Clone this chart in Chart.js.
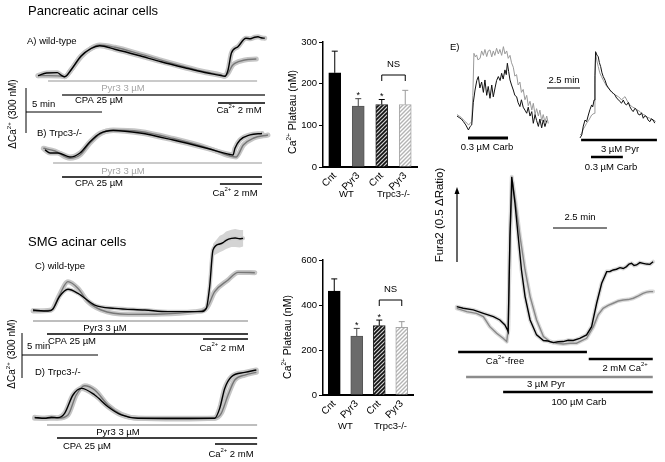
<!DOCTYPE html>
<html>
<head>
<meta charset="utf-8">
<script src="https://cdn.jsdelivr.net/npm/chart.js@4.4.1/dist/chart.umd.min.js"></script>
<style>
    body { margin: 0; background: #fff; }
    #wrap { position: relative; width: 665px; height: 462px; overflow: hidden; }
    #wrap canvas { position: absolute; left: 0; top: 0; }
</style>
</head>
<body>
<div id="wrap"></div>
<script>
// ---- Ca2+ traces, pancreatic acinar cells (min, delta nM) ----
var pancWtCnt = [[0.33,9],[0.9,27],[1.6,29],[1.85,12],[2.09,2],[2.5,47],[3.16,140],[3.82,190],[4.39,208],[5.38,185],[6.9,145],[8.42,102],[9.98,62],[11.3,30],[12.37,10],[12.62,5],[12.83,47],[13.05,160],[13.48,202],[14.01,258],[14.3,255],[14.58,265],[14.8,268],[15.0,262],[15.24,258]];
var pancWtPyr3 = [[0.33,9],[1.0,9],[1.78,7],[2.09,2],[2.5,47],[3.16,135],[3.82,191],[4.39,213],[5.38,198],[6.9,158],[8.42,113],[9.98,69],[11.3,35],[12.37,13],[12.6,5],[12.83,25],[13.1,75],[13.27,91],[13.93,113],[14.69,120]];
var pancKoCnt = [[0.79,47],[1.12,27],[1.64,27],[2.43,0],[3.09,27],[3.75,102],[4.41,158],[5.28,177],[7.04,160],[9.23,113],[11.43,58],[12.96,17],[13.16,13],[13.29,58],[13.62,113],[14.28,147],[15.07,157]];
var pancKoPyr3 = [[0.68,58],[1.45,40],[2.43,-9],[3.09,13],[3.75,93],[4.41,153],[5.28,180],[7.04,170],[9.23,123],[11.43,63],[12.96,7],[13.36,0],[13.84,80],[14.49,125],[15.46,147]];

// ---- Ca2+ traces, SMG acinar cells (min, delta nM) ----
var smgWtCnt = [[0,20],[0.99,13],[1.3,25],[1.74,109],[2.3,158],[2.96,131],[4.06,53],[5.38,31],[7.35,20],[8.88,9],[11.07,9],[11.4,31],[11.62,175],[11.84,420],[12.28,460],[12.5,470],[12.7,485],[13.05,498],[13.3,500],[13.6,495],[13.82,498]];
var smgWtCntSem = [0,0,0,0,0,0,0,0,0,0,0,0,0,40,55,55,58,58,60,58,55];
var smgWtPyr3 = [[0,13],[1.2,20],[1.74,120],[2.3,209],[2.96,164],[3.62,75],[4.49,20],[6.25,-9],[8.44,-7],[10.64,9],[11.4,31],[11.95,142],[12.83,220],[13.49,271],[14.59,269]];
var smgKoCnt = [[0.11,11],[0.77,5],[1.2,12],[1.64,9],[2.08,38],[2.63,160],[3.18,204],[4.06,160],[4.93,82],[5.81,27],[6.91,5],[11.95,5],[12.28,71],[12.61,204],[13.05,282],[13.93,311],[14.69,327]];
var smgKoPyr3 = [[0.11,5],[1.64,5],[2.3,27],[2.84,160],[3.4,222],[4.06,193],[4.93,93],[5.81,31],[6.91,5],[9.54,0],[11.95,5],[12.38,38],[12.83,160],[13.27,260],[13.93,293],[14.69,311]];

// treatments: label, start (min), end (min)
var pancWtTreat = [['Pyr3 3 µM',0.99,14.74],['CPA 25 µM',1.91,15.26],['Ca^2+^ 2 mM',12.17,15.26]];
var pancKoTreat = [['Pyr3 3 µM',1.32,15.07],['CPA 25 µM',1.91,15.07],['Ca^2+^ 2 mM',12.3,15.07]];
var smgWtTreat = [['Pyr3 3 µM',0,14.14],['CPA 25 µM',0.92,14.14],['Ca^2+^ 2 mM',11.18,14.14]];
var smgKoTreat = [['Pyr3 3 µM',0.92,14.74],['CPA 25 µM',1.58,14.74],['Ca^2+^ 2 mM',11.97,14.74]];

// ---- Ca2+ plateau bars (nM) ----
var barLabels = ['Cnt','Pyr3','Cnt','Pyr3'];
var groupLabels = ['WT','Trpc3-/-'];
var pancPlateau = [226,146,150,150];
var pancSem = [52,18,12,34];
var smgPlateau = [462,262,308,301];
var smgSem = [54,34,25,25];
var sigMarks = [false,true,true,false];

// ---- E) Fura2 traces (s, delta ratio) ----
var carbLowGray = [[0,0.07],[10,0.06],[20,0.05],[29,0.034],[40,0.02],[52,0],[60,0.01],[67,0.023],[72,0.2],[77,0.484],[83,0.46],[89,0.473],[95,0.44],[105,0.45],[112,0.5],[120,0.47],[127,0.51],[135,0.462],[142,0.5],[150,0.507],[158,0.46],[165,0.5],[172,0.47],[180,0.518],[188,0.48],[195,0.51],[203,0.47],[211,0.529],[218,0.48],[226,0.5],[233,0.45],[241,0.47],[248,0.42],[256,0.39],[263,0.33],[271,0.34],[278,0.27],[286,0.29],[293,0.22],[301,0.24],[309,0.17],[317,0.2],[324,0.13],[332,0.16],[340,0.1],[347,0.146],[355,0.07],[362,0.11],[370,0.06],[377,0.1],[385,0.03],[392,0.07],[400,0.02],[408,0.06],[415,0.01]];
var carbLowBlack = [[0,0.06],[10,0.05],[20,0.04],[29,0.023],[40,0],[52,-0.034],[60,-0.01],[67,0],[74,0.15],[82,0.236],[90,0.3],[97,0.327],[104,0.25],[112,0.29],[120,0.22],[127,0.304],[135,0.2],[142,0.26],[150,0.18],[158,0.27],[165,0.19],[173,0.25],[180,0.3],[188,0.327],[196,0.3],[203,0.349],[210,0.31],[218,0.372],[224,0.34],[229,0.417],[235,0.36],[241,0.304],[248,0.27],[256,0.236],[263,0.2],[271,0.191],[278,0.15],[286,0.124],[293,0.17],[301,0.12],[309,0.1],[317,0.079],[324,0.12],[332,0.06],[340,0.09],[347,0.011],[355,0.07],[362,0.03],[370,-0.01],[377,0.04],[385,-0.02],[392,0.034],[400,-0.011],[408,0.03]];
var pyrBlack = [[0,-0.02],[8,0],[15,0.06],[23,0.101],[30,0.09],[38,0.135],[45,0.17],[53,0.203],[58,0.19],[64,0.236],[68,0.4],[71,0.563],[77,0.54],[83,0.529],[88,0.49],[94,0.462],[100,0.42],[106,0.394],[114,0.37],[121,0.338],[129,0.32],[136,0.304],[144,0.29],[151,0.282],[159,0.27],[167,0.248],[174,0.24],[182,0.225],[189,0.215],[197,0.236],[205,0.21],[212,0.203],[220,0.22],[227,0.191],[235,0.17],[242,0.158],[250,0.18],[258,0.169],[265,0.14],[273,0.135],[280,0.15],[288,0.113],[295,0.13],[303,0.124],[310,0.1],[318,0.09],[325,0.11],[333,0.101],[340,0.08]];
var pyrGray = [[0,0],[8,0.011],[15,0.04],[23,0.06],[30,0.079],[40,0.1],[53,0.135],[64,0.146],[68,0.35],[71,0.552],[77,0.5],[83,0.462],[90,0.42],[98,0.394],[106,0.37],[114,0.349],[121,0.33],[129,0.315],[140,0.3],[151,0.282],[162,0.27],[174,0.259],[182,0.25],[189,0.236],[197,0.25],[205,0.259],[215,0.23],[227,0.203],[238,0.19],[250,0.18],[260,0.17],[273,0.158],[284,0.14],[295,0.135],[306,0.12],[318,0.113],[328,0.1],[336,0.101],[345,0.09]];
var carbHighBlack = [[2,0.002],[20,-0.009],[48,-0.02],[76,-0.043],[104,-0.065],[122,-0.088],[136,-0.122],[143,-0.155],[145,-0.167],[150,0.475],[155,0.88],[164,0.7],[173,0.475],[182,0.25],[192,0.07],[206,-0.088],[224,-0.189],[243,-0.227],[256,-0.23],[270,-0.241],[284,-0.235],[298,-0.234],[312,-0.225],[326,-0.227],[344,-0.212],[363,-0.189],[377,-0.133],[391,0.025],[405,0.16],[419,0.239],[428,0.24],[437,0.25],[446,0.255],[456,0.266],[465,0.26],[474,0.273],[481,0.29],[488,0.295],[495,0.28],[502,0.284],[511,0.3],[520,0.295],[530,0.29],[539,0.288],[548,0.306]];
var carbHighGray = [[2,-0.009],[30,-0.032],[57,-0.043],[76,-0.065],[94,-0.133],[113,-0.178],[131,-0.212],[141,-0.234],[145,-0.155],[150,0.475],[157,0.847],[166,0.7],[178,0.475],[192,0.25],[206,0.07],[224,-0.088],[243,-0.2],[261,-0.234],[280,-0.245],[298,-0.25],[317,-0.245],[335,-0.245],[363,-0.212],[382,-0.133],[395,-0.054],[409,-0.009],[423,0.01],[437,0.025],[451,0.04],[465,0.047],[479,0.05],[493,0.059],[507,0.075],[520,0.092],[530,0.1],[539,0.104],[548,0.104]];
var carbLowTreat = [['0.3 µM Carb',50,232]];
var pyrTreat = [['3 µM Pyr',5,350],['0.3 µM Carb',50,195]];
var carbHighTreat = [['Ca^2+^-free',6,364],['2 mM Ca^2+^',369,547],['3 µM Pyr',28,547],['100 µM Carb',131,547]];

// scale bars
var minScale = 5, caScale = 300, secScale = 150, ratioScale = 0.5;

var FONT = '"Liberation Sans", Arial, Helvetica, sans-serif';
Chart.defaults.font.family = FONT;
Chart.defaults.color = '#000';

var wrap = document.getElementById('wrap');
var addCanvas = function () {
    var c = document.createElement('canvas');
    c.width = 665;
    c.height = 462;
    wrap.appendChild(c);
    return c;
};

// text with ^superscript^ parts
var rich = function (ctx, str, x, y, size, color, align, rot) {
    var parts = str.split('^');
    var i, w = 0;
    ctx.save();
    ctx.translate(x, y);
    if (rot) ctx.rotate(rot);
    ctx.fillStyle = color || '#000';
    ctx.textBaseline = 'middle';
    ctx.textAlign = 'left';
    for (i = 0; i < parts.length; i++) {
        ctx.font = (i % 2 ? size * 0.62 : size) + 'px ' + FONT;
        w += ctx.measureText(parts[i]).width;
    }
    var cx = align === 'center' ? -w / 2 : (align === 'right' ? -w : 0);
    for (i = 0; i < parts.length; i++) {
        ctx.font = (i % 2 ? size * 0.62 : size) + 'px ' + FONT;
        ctx.fillText(parts[i], cx, i % 2 ? -size * 0.33 : 0);
        cx += ctx.measureText(parts[i]).width;
    }
    ctx.restore();
};

var line = function (ctx, x1, y1, x2, y2, color, w) {
    ctx.save();
    ctx.strokeStyle = color;
    ctx.lineWidth = w;
    ctx.beginPath();
    ctx.moveTo(x1, y1);
    ctx.lineTo(x2, y2);
    ctx.stroke();
    ctx.restore();
};

// treatment bars under a trace, x taken from the chart's time scale
var drawTreat = function (ctx, xs, treat, rows, size) {
    treat.forEach(function (t, i) {
        var r = rows[i];
        line(ctx, xs.getPixelForValue(t[1]), r.y, xs.getPixelForValue(t[2]), r.y, r.c, r.w || 1.5);
        rich(ctx, t[0], r.tx, r.ty, size, r.tc || '#000', 'center');
    });
};

var traceChart = function (p) {
    var sets = [];
    p.series.forEach(function (s, i) {
        var pts = s.data.map(function (d) { return {x: d[0], y: d[1]}; });
        var mode = p.smooth ? 'monotone' : 'default';
        if (s.band) {
            sets.push({data: pts, borderColor: s.band, borderWidth: s.bandWidth || 5, order: 10 + i,
                clip: false, cubicInterpolationMode: mode, borderJoinStyle: 'round', borderCapStyle: 'round'});
        }
        sets.push({data: pts, borderColor: s.color, borderWidth: s.width || 1.4, order: i,
            clip: false, cubicInterpolationMode: mode});
    });
    new Chart(addCanvas(), {
        type: 'line',
        data: {datasets: sets},
        options: {
            responsive: false,
            animation: false,
            events: [],
            layout: {padding: {left: p.area[0], top: p.area[1], right: 665 - p.area[2], bottom: 462 - p.area[3]}},
            plugins: {legend: {display: false}, tooltip: {enabled: false}},
            elements: {point: {radius: 0}},
            scales: {
                x: {type: 'linear', display: false, min: p.x[0], max: p.x[1]},
                y: {type: 'linear', display: false, min: p.y[0], max: p.y[1]}
            }
        },
        plugins: [{
            id: 'notes',
            beforeDatasetsDraw: function (chart) {
                if (p.before) p.before(chart.ctx, chart.scales.x, chart.scales.y);
            },
            afterDraw: function (chart) {
                if (p.after) p.after(chart.ctx, chart.scales.x, chart.scales.y);
            }
        }]
    });
};

// ----- A) pancreatic wild-type -----
traceChart({
    area: [33, 32, 265, 86], x: [0, 15.26], y: [-60, 300], smooth: true,
    series: [
        {data: pancWtCnt, color: '#000', band: '#c6c6c6'},
        {data: pancWtPyr3, color: '#777', band: '#c6c6c6'}
    ],
    after: function (ctx, xs, ys) {
        rich(ctx, 'Pancreatic acinar cells', 28, 11, 13, '#000', 'left');
        rich(ctx, 'A) wild-type', 27, 41, 9.5, '#000', 'left');
        drawTreat(ctx, xs, pancWtTreat, [
            {y: 81, c: '#b8b8b8', tx: 123, ty: 88, tc: '#a6a6a6'},
            {y: 95, c: '#333', tx: 99, ty: 100},
            {y: 103, c: '#000', tx: 239, ty: 110}
        ], 9.5);
        // scale bars
        var h = ys.getPixelForValue(0) - ys.getPixelForValue(caScale);
        var w = xs.getPixelForValue(minScale) - xs.getPixelForValue(0);
        line(ctx, 26, 133, 26, 133 - h, '#000', 1);
        line(ctx, 26, 112, 26 + w, 112, '#000', 1);
        rich(ctx, '5 min', 32, 104, 9.5, '#000', 'left');
        rich(ctx, 'ΔCa^2+^ (300 nM)', 13, 114, 10, '#000', 'center', -Math.PI / 2);
    }
});

// ----- B) pancreatic Trpc3-/- -----
traceChart({
    area: [33, 127, 271, 166], x: [0, 15.66], y: [-60, 200], smooth: true,
    series: [
        {data: pancKoCnt, color: '#000', band: '#c6c6c6'},
        {data: pancKoPyr3, color: '#777', band: '#c6c6c6'}
    ],
    after: function (ctx, xs) {
        rich(ctx, 'B) Trpc3-/-', 37, 133, 9.5, '#000', 'left');
        drawTreat(ctx, xs, pancKoTreat, [
            {y: 163, c: '#b8b8b8', tx: 123, ty: 171, tc: '#a6a6a6'},
            {y: 177, c: '#000', tx: 99, ty: 183},
            {y: 184, c: '#000', tx: 235, ty: 193}
        ], 9.5);
    }
});

// ----- C) SMG wild-type -----
traceChart({
    area: [33, 228, 258, 322], x: [0, 14.8], y: [-60, 567], smooth: true,
    series: [
        {data: smgWtCnt, color: '#000', band: '#cdcdcd', bandWidth: 4},
        {data: smgWtPyr3, color: '#777', band: '#c6c6c6'}
    ],
    before: function (ctx, xs, ys) {
        // SEM of the control plateau
        var up = [], lo = [];
        smgWtCnt.forEach(function (d, i) {
            if (smgWtCntSem[i] > 0) {
                up.push([xs.getPixelForValue(d[0]), ys.getPixelForValue(d[1] + smgWtCntSem[i])]);
                lo.unshift([xs.getPixelForValue(d[0]), ys.getPixelForValue(d[1] - smgWtCntSem[i])]);
            }
        });
        ctx.save();
        ctx.fillStyle = '#d4d4d4';
        ctx.beginPath();
        up.concat(lo).forEach(function (q, i) { if (i) ctx.lineTo(q[0], q[1]); else ctx.moveTo(q[0], q[1]); });
        ctx.closePath();
        ctx.fill();
        ctx.restore();
    },
    after: function (ctx, xs, ys) {
        rich(ctx, 'SMG acinar cells', 28, 242, 13, '#000', 'left');
        rich(ctx, 'C) wild-type', 35, 266, 9.5, '#000', 'left');
        drawTreat(ctx, xs, smgWtTreat, [
            {y: 321, c: '#a8a8a8', tx: 105, ty: 328},
            {y: 334, c: '#000', tx: 72, ty: 341},
            {y: 339, c: '#000', tx: 222, ty: 348}
        ], 9.5);
        var h = ys.getPixelForValue(0) - ys.getPixelForValue(caScale);
        var w = xs.getPixelForValue(minScale) - xs.getPixelForValue(0);
        line(ctx, 22, 378, 22, 378 - h, '#000', 1);
        line(ctx, 22, 355, 22 + w, 355, '#000', 1);
        rich(ctx, '5 min', 27, 346, 9.5, '#000', 'left');
        rich(ctx, 'ΔCa^2+^ (300 nM)', 12, 354, 10, '#000', 'center', -Math.PI / 2);
    }
});

// ----- D) SMG Trpc3-/- -----
traceChart({
    area: [33, 362, 260, 428], x: [0, 14.93], y: [-60, 380], smooth: true,
    series: [
        {data: smgKoCnt, color: '#000', band: '#c6c6c6'},
        {data: smgKoPyr3, color: '#777', band: '#c6c6c6'}
    ],
    after: function (ctx, xs) {
        rich(ctx, 'D) Trpc3-/-', 35, 372, 9.5, '#000', 'left');
        drawTreat(ctx, xs, smgKoTreat, [
            {y: 425, c: '#a8a8a8', tx: 118, ty: 432},
            {y: 438, c: '#000', tx: 87, ty: 446},
            {y: 444, c: '#000', tx: 231, ty: 454}
        ], 9.5);
    }
});

// ----- E) top left: 0.3 uM carbachol -----
traceChart({
    area: [457, 40, 552, 135], x: [0, 432], y: [-0.068, 0.574],
    series: [
        {data: carbLowBlack, color: '#111', width: 1},
        {data: carbLowGray, color: '#999', width: 1}
    ],
    after: function (ctx, xs) {
        rich(ctx, 'E)', 450, 47, 9.5, '#000', 'left');
        drawTreat(ctx, xs, carbLowTreat, [{y: 138, c: '#000', w: 3, tx: 487, ty: 147}], 9.5);
        var w = xs.getPixelForValue(secScale) - xs.getPixelForValue(0);
        line(ctx, 547, 88, 547 + w, 88, '#000', 1.2);
        rich(ctx, '2.5 min', 564, 80, 9.5, '#000', 'center');
    }
});

// ----- E) top right: Pyr3 then carbachol -----
traceChart({
    area: [580, 40, 660, 140], x: [0, 364], y: [-0.034, 0.642],
    series: [
        {data: pyrBlack, color: '#111', width: 1},
        {data: pyrGray, color: '#999', width: 1}
    ],
    after: function (ctx, xs) {
        drawTreat(ctx, xs, pyrTreat, [
            {y: 140, c: '#000', w: 2.5, tx: 620, ty: 149},
            {y: 157, c: '#000', w: 2.5, tx: 611, ty: 167}
        ], 9.5);
    }
});

// ----- E) bottom: 100 uM carbachol -----
traceChart({
    area: [456, 170, 656, 350], x: [0, 556], y: [-0.291, 0.926],
    series: [
        {data: carbHighBlack, color: '#000', width: 1.4, band: '#dadada', bandWidth: 4},
        {data: carbHighGray, color: '#888', width: 1.4, band: '#dadada', bandWidth: 4}
    ],
    after: function (ctx, xs, ys) {
        drawTreat(ctx, xs, carbHighTreat, [
            {y: 352, c: '#000', w: 2.5, tx: 505, ty: 361},
            {y: 359, c: '#000', w: 2.5, tx: 625, ty: 368},
            {y: 377, c: '#8c8c8c', w: 2.5, tx: 546, ty: 384},
            {y: 392, c: '#000', w: 2.5, tx: 579, ty: 402}
        ], 9.5);
        var w = xs.getPixelForValue(secScale) - xs.getPixelForValue(0);
        line(ctx, 553, 228, 553 + w, 228, '#000', 1.2);
        rich(ctx, '2.5 min', 580, 217, 9.5, '#000', 'center');
        // 0.5 ratio arrow
        var h = ys.getPixelForValue(0) - ys.getPixelForValue(ratioScale);
        line(ctx, 457, 262, 457, 262 - h + 3, '#000', 1.2);
        ctx.save();
        ctx.fillStyle = '#000';
        ctx.beginPath();
        ctx.moveTo(457, 262 - h - 1);
        ctx.lineTo(454.5, 262 - h + 6);
        ctx.lineTo(459.5, 262 - h + 6);
        ctx.closePath();
        ctx.fill();
        ctx.restore();
        rich(ctx, 'Fura2 (0.5 ΔRatio)', 440, 215, 11.5, '#000', 'center', -Math.PI / 2);
    }
});

// ----- Ca2+ plateau bar charts -----
var hatch = function (ctx, bg, fg, lw) {
    var t = document.createElement('canvas');
    t.width = 4;
    t.height = 4;
    var g = t.getContext('2d');
    g.fillStyle = bg;
    g.fillRect(0, 0, 4, 4);
    g.strokeStyle = fg;
    g.lineWidth = lw;
    g.beginPath();
    g.moveTo(-1, 5); g.lineTo(5, -1);
    g.moveTo(-1, 1); g.lineTo(1, -1);
    g.moveTo(3, 5); g.lineTo(5, 3);
    g.stroke();
    return ctx.createPattern(t, 'repeat');
};

var barChart = function (p) {
    var canvas = addCanvas();
    var ctx0 = canvas.getContext('2d');
    var yw = 30, xh = 30;
    new Chart(canvas, {
        type: 'bar',
        data: {
            labels: barLabels,
            datasets: [{
                data: p.values,
                backgroundColor: ['#000', '#6a6a6a', hatch(ctx0, '#d0d0d0', '#111', 1.6), hatch(ctx0, '#fff', '#b4b4b4', 1.4)],
                borderColor: ['#000', '#555', '#222', '#a8a8a8'],
                borderWidth: 1,
                barThickness: 12
            }]
        },
        options: {
            responsive: false,
            animation: false,
            events: [],
            layout: {padding: {left: p.area[0] - yw, top: p.area[1], right: 665 - p.area[2], bottom: 462 - p.area[3] - xh}},
            plugins: {legend: {display: false}, tooltip: {enabled: false}},
            scales: {
                x: {
                    offset: true,
                    grid: {display: false, drawTicks: false},
                    border: {color: '#000', width: 2},
                    ticks: {font: {size: 10}, color: '#000', minRotation: 45, maxRotation: 45, autoSkip: false, padding: 3},
                    afterFit: function (s) { s.height = xh; }
                },
                y: {
                    min: 0, max: p.max,
                    ticks: {stepSize: p.step, font: {size: 9.5}, color: '#000', padding: 2},
                    grid: {drawOnChartArea: false, color: '#000', tickLength: 4, lineWidth: 1},
                    border: {color: '#000', width: 1.5},
                    afterFit: function (s) { s.width = yw; }
                }
            }
        },
        plugins: [{
            id: 'barNotes',
            afterDraw: function (chart) {
                var ctx = chart.ctx, ys = chart.scales.y;
                var bars = chart.getDatasetMeta(0).data;
                var errColors = ['#000', '#444', '#000', '#9a9a9a'];
                bars.forEach(function (b, i) {
                    var top = ys.getPixelForValue(p.values[i] + p.sem[i]);
                    line(ctx, b.x, b.y, b.x, top, errColors[i], 1);
                    line(ctx, b.x - 3, top, b.x + 3, top, errColors[i], 1);
                    if (sigMarks[i]) rich(ctx, '*', b.x, top - 3, 9, '#000', 'center');
                });
                // NS bracket between the two Trpc3-/- bars
                var x1 = bars[2].x, x2 = bars[3].x;
                ctx.save();
                ctx.strokeStyle = '#000';
                ctx.lineWidth = 1;
                ctx.beginPath();
                ctx.moveTo(x1, p.nsY + 6);
                ctx.lineTo(x1, p.nsY);
                ctx.lineTo(x2, p.nsY);
                ctx.lineTo(x2, p.nsY + 6);
                ctx.stroke();
                ctx.restore();
                rich(ctx, 'NS', (x1 + x2) / 2, p.nsY - 11, 9.5, '#000', 'center');
                rich(ctx, groupLabels[0], (bars[0].x + bars[1].x) / 2, p.groupY, 9.5, '#000', 'center');
                rich(ctx, groupLabels[1], (bars[2].x + bars[3].x) / 2, p.groupY, 9.5, '#000', 'center');
                rich(ctx, 'Ca^2+^ Plateau (nM)', p.titleX, p.titleY, 10.5, '#000', 'center', -Math.PI / 2);
            }
        }]
    });
};

barChart({area: [323, 42, 417, 167], max: 300, step: 100, values: pancPlateau, sem: pancSem,
    nsY: 75, groupY: 194, titleX: 293, titleY: 112});
barChart({area: [323, 260, 413, 395], max: 600, step: 200, values: smgPlateau, sem: smgSem,
    nsY: 300, groupY: 426, titleX: 288, titleY: 337});
</script>
</body>
</html>
